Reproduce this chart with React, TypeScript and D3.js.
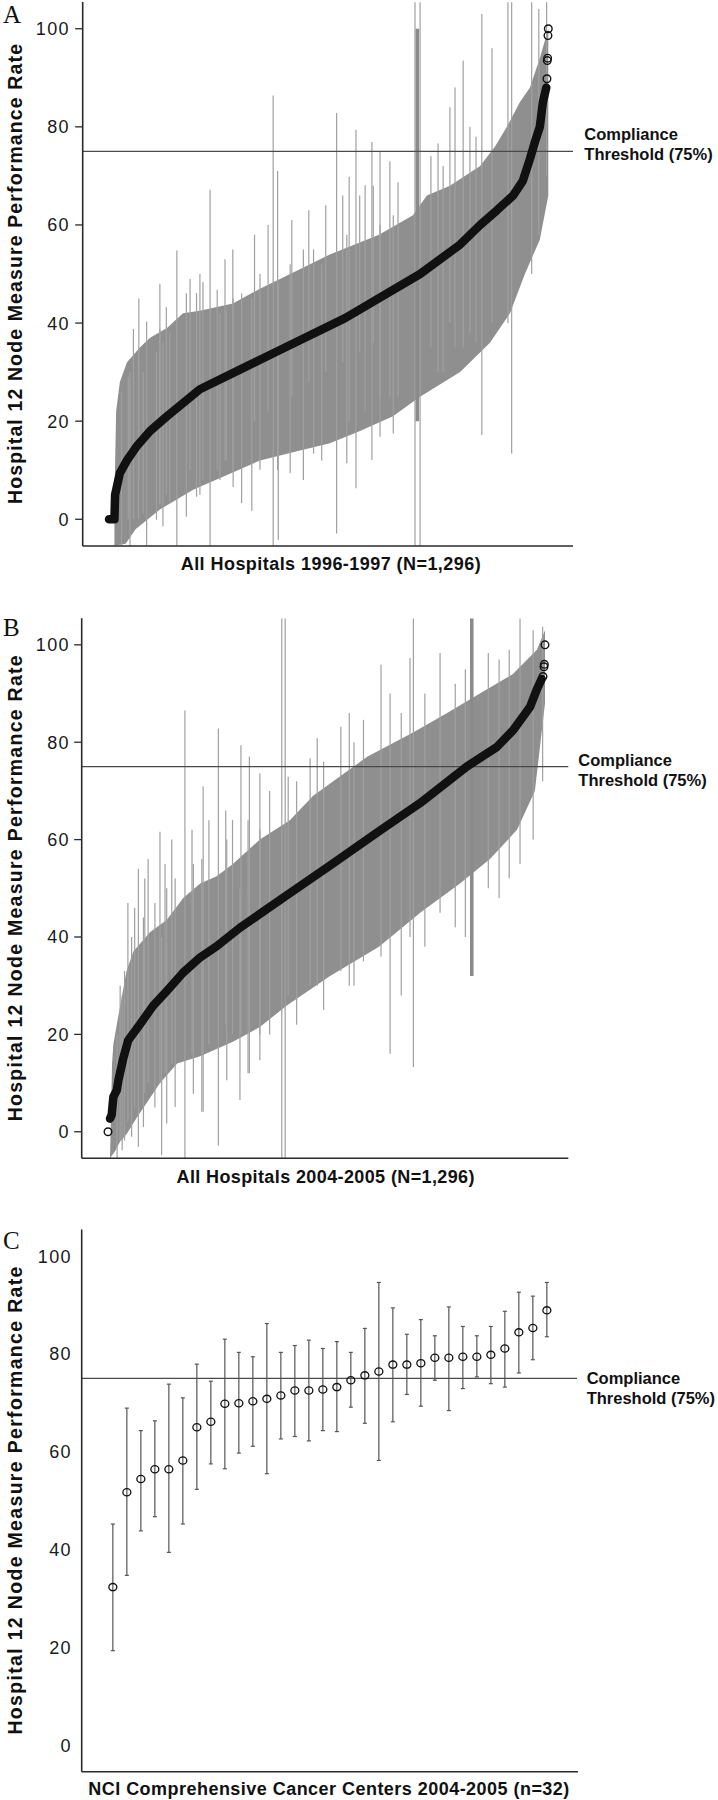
import React from 'react';
import * as d3 from 'd3';

// ---------- shared ----------
const Y_TICKS = [0, 20, 40, 60, 80, 100];
const THRESHOLD = 75;
const Y_DOMAIN: [number, number] = [-5.45, 105.45];
const N_HOSPITALS = 1296;
const Y_LABEL = 'Hospital 12 Node Measure Performance Rate';
const THRESHOLD_LABEL_1 = 'Compliance';
const THRESHOLD_LABEL_2 = 'Threshold (75%)';

// ---------- Panel A: All hospitals 1996-1997 (rank, rate) ----------
const A_MEDIAN: [number, number][] = [
  [1, 0], [17, 0], [19, 5], [33, 9.4], [54, 12], [84, 15], [122, 18], [172, 21], [269, 26.5],
  [387, 30.5], [505, 34.5], [697, 41], [918, 50], [1036, 56], [1095, 60], [1145, 63], [1192, 66],
  [1221, 69], [1242, 73.5], [1257, 77], [1271, 80], [1280, 85], [1290, 88],
];
const A_UPPER: [number, number][] = [
  [17, 4], [22, 22], [33, 28], [54, 32], [92, 35], [122, 37], [172, 39], [219, 42], [269, 42.5],
  [366, 44], [446, 47], [535, 50], [652, 54], [797, 58], [897, 62], [938, 66], [1006, 68],
  [1095, 72], [1139, 76], [1174, 80], [1212, 85], [1242, 88], [1271, 94], [1296, 100],
];
const A_LOWER: [number, number][] = [
  [17, -5.4], [50, -5], [80, -2], [151, 2], [249, 6], [349, 9], [446, 12], [564, 14], [652, 15.5],
  [741, 18], [838, 21], [918, 25], [1036, 30], [1124, 36], [1183, 42], [1227, 50], [1271, 57], [1296, 66],
];
// individual long confidence intervals [rank, low, high]
const A_SPIKES: [number, number, number][] = [
  [38, -5.4, 26], [63, -5.4, 30], [112, -5.4, 40.3], [89, 8, 45], [151, 3, 48], [201, -5.4, 54.8],
  [240, 10, 49], [269, 5, 50], [299, -5.4, 67.2], [343, 12, 53], [366, 10, 55], [422, 1.75, 45],
  [485, -5.4, 86.4], [498, 10, 71], [500, -4.2, 48], [574, 8, 55], [628, 12, 52], [672, -2.9, 82.8],
  [709, 20, 69.8], [729, 6.3, 79.4], [756, 22, 68.1], [776, 12.1, 76.9], [800, 25, 75], [829, 25, 73],
  [853, 25, 68.7], [903, -5.4, 105.4], [918, -5.4, 105.4], [950, 35, 74], [971, 30, 76.6], [986, 30, 72],
  [1006, 40, 84], [1021, 35, 88], [1045, 35, 93.5], [1065, 38, 80], [1083, 36, 78], [1100, 17.2, 103],
  [1130, 40, 96], [1177, 40, 105.4], [1188, 13.4, 105.4], [1247, 50, 105.4], [1268, 58, 104], [1291, 70, 105.4],
  // shorter ones that make the band edges ragged
  [58, 0, 29], [73, 0, 38.8], [88, 0, 33], [151, 3, 38.8], [170, 5, 43.2], [229, 0.5, 46.1], [259, 4.6, 46.1],
  [278, 8, 48.3], [320, 10, 46.8], [347, 12, 42.5], [102, 1.2, 30], [141, -0.1, 34], [160, -1.5, 36],
  [180, 3.4, 38], [328, 8, 42], [367, 6.6, 45], [392, 3.3, 46], [446, 10.1, 50], [535, 9.4, 52],
  [604, 13.4, 55], [702, 11.4, 58], [800, 16.8, 60], [839, 17.5, 62], [430, 20, 58], [470, 22, 60],
  [540, 25, 61], [590, 28, 63], [640, 30, 64], [690, 32, 66], [740, 34, 66], [780, 36, 68],
];
const A_BARS: [number, number, number][] = [[910, 20, 100]];
const A_POINTS: [number, number][] = [[1292, 89.8], [1293, 93.5], [1294, 94], [1295, 98.6], [1296, 100]];

// ---------- Panel B: All hospitals 2004-2005 ----------
const B_MEDIAN: [number, number][] = [
  [7, 2.7], [12, 3.5], [17, 7.2], [27, 8.5], [32, 10.6], [46, 15], [61, 18.8], [96, 22.1], [135, 25.9],
  [175, 28.9], [224, 32.7], [274, 35.8], [323, 38.1], [392, 41.9], [532, 48.6], [659, 54.7], [804, 61.7],
  [926, 67.5], [1064, 75], [1153, 79], [1202, 82.5], [1252, 87.3], [1271, 90.7], [1286, 93],
];
const B_UPPER: [number, number][] = [
  [13, 14], [17, 18], [27, 22], [56, 33], [76, 37], [126, 41], [175, 43.5], [224, 48], [274, 51],
  [323, 52.5], [371, 55], [451, 60], [540, 64], [609, 69], [689, 73], [769, 77], [905, 82], [1006, 86],
  [1103, 90], [1201, 94], [1272, 99], [1296, 103],
];
const B_LOWER: [number, number][] = [
  [7, -5.4], [22, -4], [37, -2], [57, -0.4], [87, 3], [126, 7], [155, 10], [206, 14], [274, 15.5],
  [371, 18.5], [451, 21.5], [532, 26], [659, 32], [804, 38], [926, 45], [1044, 51], [1133, 56],
  [1213, 62], [1266, 70], [1296, 88],
];
const B_SPIKES: [number, number, number][] = [
  [28, -5.4, 20], [43, -3.8, 28], [91, -3.1, 54], [140, 5, 47], [155, 10, 61.6], [160, -4.8, 40],
  [229, -5.4, 86.5], [283, 4.1, 70.9], [328, -2.8, 82.8], [392, 6.5, 50], [395, 20, 79.4], [420, 12, 77],
  [451, 20, 73.6], [516, -5.4, 105.4], [526, -5.4, 105.4], [535, 28, 72.9], [600, 30, 76.7], [621, 30, 80.8],
  [691, 33, 83.2], [716, 30, 86], [758, 35, 84.6], [810, 36, 95.9], [837, 16, 90], [896, 40, 97.3],
  [906, 13.3, 105.4], [985, 45, 98.3], [1128, 50, 98.3], [1222, 55, 105.4], [1261, 60, 103], [1289, 72, 103.7],
  // shorter ones that make the band edges ragged
  [37, -1.8, 30], [50, -1.8, 33], [60, 2, 47], [71, -1, 40], [80, 5, 46], [106, 1, 44], [110, 8, 52],
  [120, 10, 56], [175, 1.7, 50], [170, 12, 55], [200, 5.1, 52], [190, 14, 60], [254, 7.8, 55],
  [250, 16, 62], [279, 4.1, 56], [300, 18, 64], [353, 10.6, 60], [350, 22, 66], [416, 12, 64],
  [370, 20, 64], [451, 14.7, 62], [480, 20, 70], [560, 22, 72], [640, 25, 76], [730, 30, 80],
  [870, 28, 86], [940, 38, 90], [1030, 42, 92], [1060, 40, 95], [1160, 48, 97], [1190, 52, 99],
];
const B_BARS: [number, number, number][] = [[1079, 32, 105.4]];
const B_POINTS: [number, number][] = [[1, 0], [1290, 93.5], [1293, 95.5], [1294, 96], [1296, 100]];

// ---------- Panel C: NCI Comprehensive Cancer Centers 2004-2005 ----------
const C_VALUES = [32.3, 51.7, 54.4, 56.4, 56.4, 58.2, 65.0, 66.1, 69.8, 69.9, 70.3, 70.8, 71.5, 72.5, 72.5, 72.7,
  73.2, 74.6, 75.6, 76.4, 77.8, 77.8, 78.1, 79.2, 79.2, 79.4, 79.4, 79.8, 81.1, 84.4, 85.3, 88.9];
const C_UPPER = [45.2, 68.9, 64.3, 66.3, 73.8, 71.0, 77.9, 74.4, 83.0, 80.3, 79.4, 86.2, 80.3, 81.7, 82.8, 81.1,
  82.5, 80.3, 85.2, 94.6, 89.4, 84.0, 87.0, 83.7, 89.6, 85.6, 83.7, 85.6, 88.7, 92.6, 91.8, 94.6];
const C_LOWER = [19.3, 34.7, 43.8, 46.7, 39.4, 45.2, 52.3, 57.5, 56.5, 59.7, 61.1, 55.5, 62.6, 63.1, 62.2, 64.3,
  64.1, 69.1, 65.8, 58.2, 66.1, 71.7, 69.3, 74.6, 68.4, 72.9, 75.3, 73.9, 73.2, 76.1, 78.8, 83.5];

// ---------- layout ----------
type Layout = {
  letter: string; letterY: number;
  x0: number; x1: number; top: number; bottom: number;
  rankRange: [number, number];
  ticks: boolean; tickLabelX: number;
  yLabelLen: number;
  thrEnd: number; compX: number; compY1: number; compY2: number;
  xLabel: string; xLabelY: number; xLabelCx: number; xLabelLen: number;
};

const LAYOUT_A: Layout = {
  letter: 'A', letterY: 22.5, x0: 82.7, x1: 573, top: 2, bottom: 546, rankRange: [109, 548.3],
  ticks: true, tickLabelX: 70, yLabelLen: 460, thrEnd: 573, compX: 584.3, compY1: 139.5, compY2: 160,
  xLabel: 'All Hospitals 1996-1997 (N=1,296)', xLabelY: 570, xLabelCx: 330.7, xLabelLen: 300,
};
const LAYOUT_B: Layout = {
  letter: 'B', letterY: 636, x0: 81.7, x1: 568.3, top: 618.3, bottom: 1158.3, rankRange: [108, 545],
  ticks: true, tickLabelX: 70, yLabelLen: 466, thrEnd: 568.3, compX: 578.3, compY1: 765.5, compY2: 786,
  xLabel: 'All Hospitals 2004-2005 (N=1,296)', xLabelY: 1183.3, xLabelCx: 325.5, xLabelLen: 298,
};
const LAYOUT_C: Layout = {
  letter: 'C', letterY: 1249, x0: 81.7, x1: 578, top: 1229.4, bottom: 1771.7, rankRange: [0, 0],
  ticks: false, tickLabelX: 72, yLabelLen: 468, thrEnd: 577, compX: 586.7, compY1: 1384, compY2: 1404,
  xLabel: 'NCI Comprehensive Cancer Centers 2004-2005 (n=32)', xLabelY: 1795, xLabelCx: 328.8, xLabelLen: 481,
};

const SANS = "'Liberation Sans', Arial, Helvetica, sans-serif";
const SERIF = "'Liberation Serif', 'Times New Roman', serif";
const AXIS = '#2a2a2a';
const BAND = '#8f8f8f';
const SPIKE = '#a0a0a0';

function Frame({ L, y }: { L: Layout; y: d3.ScaleLinear<number, number> }) {
  const cy = (L.top + L.bottom) / 2;
  return (
    <g>
      <line x1={L.x0} x2={L.thrEnd} y1={y(THRESHOLD)} y2={y(THRESHOLD)} stroke="#4a4a4a" strokeWidth={1.3} />
      <line x1={L.x0} x2={L.x0} y1={L.top} y2={L.bottom} stroke={AXIS} strokeWidth={1.6} />
      <line x1={L.x0} x2={L.x1} y1={L.bottom} y2={L.bottom} stroke={AXIS} strokeWidth={1.6} />
      {Y_TICKS.map((t) => (
        <g key={t}>
          {L.ticks && <line x1={L.x0 - 7.5} x2={L.x0} y1={y(t)} y2={y(t)} stroke={AXIS} strokeWidth={1.3} />}
          <text x={L.tickLabelX} y={y(t)} dy="0.36em" textAnchor="end" fontFamily={SANS} fontSize={18}
            letterSpacing={1.4} fill="#1a1a1a">{t}</text>
        </g>
      ))}
      <text x={3} y={L.letterY} fontFamily={SERIF} fontSize={25} fill="#111">{L.letter}</text>
      <text transform={`translate(21.5,${cy + L.yLabelLen / 2}) rotate(-90)`} x={0} y={0}
        fontFamily={SANS} fontWeight="bold" fontSize={19.5} fill="#111"
        textLength={L.yLabelLen} lengthAdjust="spacing">{Y_LABEL}</text>
      <text x={L.xLabelCx - L.xLabelLen / 2} y={L.xLabelY} fontFamily={SANS} fontWeight="bold" fontSize={18}
        fill="#111" textLength={L.xLabelLen} lengthAdjust="spacing">{L.xLabel}</text>
      <text x={L.compX} y={L.compY1} fontFamily={SANS} fontWeight="bold" fontSize={16.5} fill="#111">{THRESHOLD_LABEL_1}</text>
      <text x={L.compX} y={L.compY2} fontFamily={SANS} fontWeight="bold" fontSize={16.5} fill="#111">{THRESHOLD_LABEL_2}</text>
    </g>
  );
}

function HospitalPanel({ L, median, upper, lower, spikes, bars, points }: {
  L: Layout; median: [number, number][]; upper: [number, number][]; lower: [number, number][];
  spikes: [number, number, number][]; bars: [number, number, number][]; points: [number, number][];
}) {
  const x = d3.scaleLinear().domain([1, N_HOSPITALS]).range(L.rankRange);
  const y = d3.scaleLinear().domain(Y_DOMAIN).range([L.bottom, L.top]);
  const line = d3.line<[number, number]>().x((d) => x(d[0])).y((d) => y(d[1]));
  const band = line([...upper, ...lower.slice().reverse()]) + 'Z';
  return (
    <g>
      <path d={band} fill={BAND} stroke="none" />
      {spikes.map((s, i) => (
        <line key={i} x1={x(s[0])} x2={x(s[0])} y1={y(s[1])} y2={y(s[2])} stroke={SPIKE} strokeWidth={1.2} />
      ))}
      {bars.map((s, i) => (
        <line key={i} x1={x(s[0])} x2={x(s[0])} y1={y(s[1])} y2={y(s[2])} stroke="#8a8a8a" strokeWidth={3.5} />
      ))}
      <Frame L={L} y={y} />
      <path d={line(median) || ''} fill="none" stroke="#111" strokeWidth={8.5} strokeLinejoin="round" strokeLinecap="round" />
      {points.map((p, i) => (
        <circle key={i} cx={x(p[0])} cy={y(p[1])} r={3.8} fill="none" stroke="#111" strokeWidth={1.4} />
      ))}
    </g>
  );
}

function CancerCenterPanel({ L }: { L: Layout }) {
  const idx = C_VALUES.map((_, i) => i);
  const x = d3.scalePoint<number>().domain(idx).range([L.x0, L.x1]).padding(2.225);
  const y = d3.scaleLinear().domain(Y_DOMAIN).range([L.bottom, L.top]);
  return (
    <g>
      <Frame L={L} y={y} />
      {idx.map((i) => {
        const cx = x(i) as number;
        return (
          <g key={i}>
            <line x1={cx} x2={cx} y1={y(C_LOWER[i])} y2={y(C_UPPER[i])} stroke="#555" strokeWidth={1.2} />
            <line x1={cx - 2} x2={cx + 2} y1={y(C_LOWER[i])} y2={y(C_LOWER[i])} stroke="#555" strokeWidth={1.2} />
            <line x1={cx - 2} x2={cx + 2} y1={y(C_UPPER[i])} y2={y(C_UPPER[i])} stroke="#555" strokeWidth={1.2} />
            <ellipse cx={cx} cy={y(C_VALUES[i])} rx={4} ry={3.6} fill="none" stroke="#111" strokeWidth={1.3} />
          </g>
        );
      })}
    </g>
  );
}

export default function App() {
  return (
    <svg width={718} height={1800} viewBox="0 0 718 1800"
      style={{ position: 'absolute', left: 0, top: 0, background: '#fff' }}>
      <rect x={0} y={0} width={718} height={1800} fill="#fff" />
      <HospitalPanel L={LAYOUT_A} median={A_MEDIAN} upper={A_UPPER} lower={A_LOWER} spikes={A_SPIKES} bars={A_BARS} points={A_POINTS} />
      <HospitalPanel L={LAYOUT_B} median={B_MEDIAN} upper={B_UPPER} lower={B_LOWER} spikes={B_SPIKES} bars={B_BARS} points={B_POINTS} />
      <CancerCenterPanel L={LAYOUT_C} />
    </svg>
  );
}
